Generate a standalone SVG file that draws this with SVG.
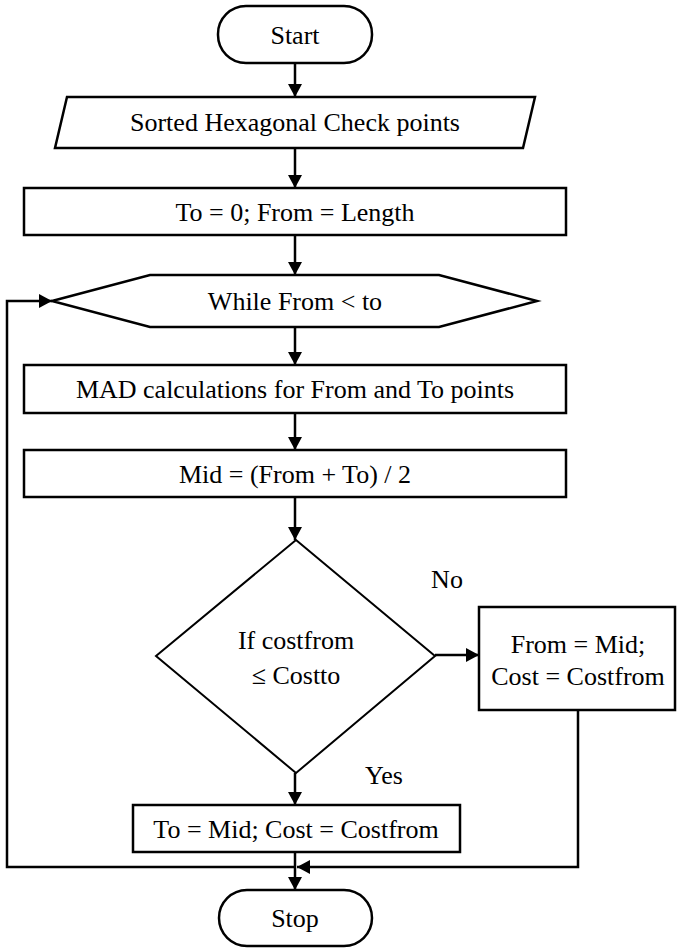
<svg xmlns="http://www.w3.org/2000/svg" width="677" height="950" viewBox="0 0 677 950">
<defs>
<marker id="ah" markerUnits="userSpaceOnUse" markerWidth="14" markerHeight="14" refX="13" refY="7" orient="auto">
<path d="M0,0 L13,7 L0,14 Z" fill="#000"/>
</marker>
</defs>
<style>
.s{fill:#fff;stroke:#000;stroke-width:2.5}
.d{fill:#fff;stroke:#000;stroke-width:2}
.c{fill:none;stroke:#000;stroke-width:2.5;marker-end:url(#ah)}
.l{fill:none;stroke:#000;stroke-width:2.5}
text{font-family:"Liberation Serif","Times New Roman",serif;font-size:26px;fill:#000;text-anchor:middle}
</style>
<rect width="677" height="950" fill="#fff"/>
<g id="connectors">
<line class="c" x1="295" y1="63" x2="295" y2="97"/>
<line class="c" x1="295" y1="148" x2="295" y2="188"/>
<line class="c" x1="295" y1="235" x2="295" y2="275"/>
<line class="c" x1="295" y1="327" x2="295" y2="365"/>
<line class="c" x1="295" y1="413" x2="295" y2="450"/>
<line class="c" x1="295" y1="497" x2="295" y2="540"/>
<line class="c" x1="435" y1="655" x2="479" y2="655"/>
<line class="c" x1="295" y1="773" x2="295" y2="805"/>
<line class="c" x1="295" y1="852" x2="295" y2="890"/>
<path class="c" d="M578,710 L578,867 L297,867"/>
<path class="c" d="M295,867 L7,867 L7,301 L52,301"/>
</g>
<g id="start">
<rect class="s" x="218" y="6" width="154" height="57" rx="28" ry="28"/>
<text x="295" y="44">Start</text>
</g>
<g id="input">
<polygon class="s" points="67,97 535,97 523,148 55,148"/>
<text x="295" y="131">Sorted Hexagonal Check points</text>
</g>
<g id="init">
<rect class="s" x="24" y="188" width="542" height="47"/>
<text x="295" y="221">To = 0; From = Length</text>
</g>
<g id="while">
<polygon class="s" points="52,301 150,275 439,275 537,301 439,327 150,327"/>
<text x="295" y="310">While From &lt; to</text>
</g>
<g id="mad">
<rect class="s" x="24" y="365" width="542" height="48"/>
<text x="295" y="398">MAD calculations for From and To points</text>
</g>
<g id="mid">
<rect class="s" x="24" y="450" width="542" height="47"/>
<text x="295" y="483">Mid = (From + To) / 2</text>
</g>
<g id="decision">
<polygon class="d" points="296,540 435,656 296,773 156,656"/>
<text x="296" y="649">If costfrom</text>
<text x="296" y="684">≤ Costto</text>
</g>
<g id="no-branch">
<rect class="s" x="479" y="607" width="196" height="103"/>
<text x="578" y="653">From = Mid;</text>
<text x="578" y="685">Cost = Costfrom</text>
</g>
<g id="yes-branch">
<rect class="s" x="133" y="805" width="327" height="47"/>
<text x="296" y="838">To = Mid; Cost = Costfrom</text>
</g>
<g id="labels">
<text x="447" y="588">No</text>
<text x="384" y="784">Yes</text>
</g>
<g id="stop">
<rect class="s" x="219" y="890" width="153" height="56" rx="28" ry="28"/>
<text x="295" y="927">Stop</text>
</g>
</svg>
